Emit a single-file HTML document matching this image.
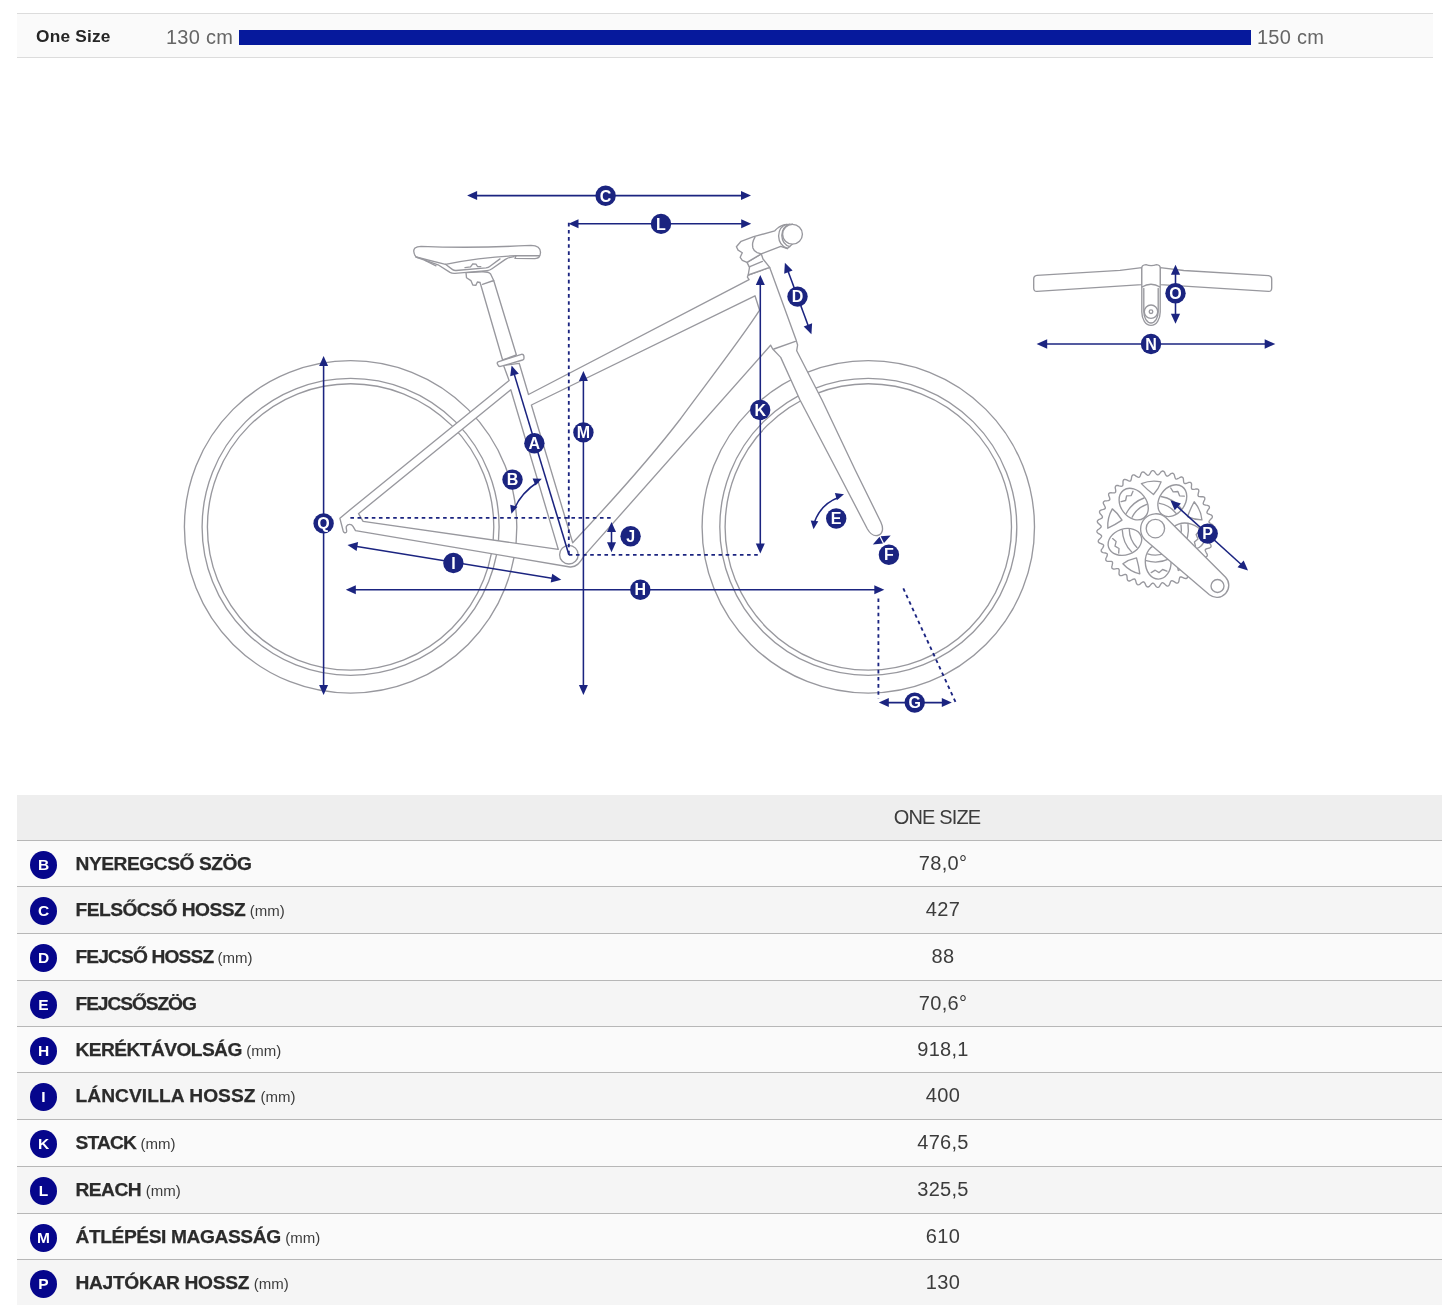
<!DOCTYPE html>
<html lang="hu">
<head>
<meta charset="utf-8">
<title>Geometria</title>
<style>
html,body{margin:0;padding:0;background:#fff;}
body{width:1445px;height:1305px;position:relative;overflow:hidden;font-family:"Liberation Sans",sans-serif;color:#2b2b2b;}
.strip{position:absolute;left:17px;top:13px;width:1416px;height:43px;background:#fafafa;border-top:1px solid #dcdcdc;border-bottom:1px solid #dcdcdc;}
.strip .name{position:absolute;left:19px;top:1px;line-height:43px;font-weight:bold;font-size:17.3px;letter-spacing:.2px;color:#262626;white-space:nowrap;}
.strip .lo,.strip .hi{position:absolute;top:1px;line-height:45px;font-size:20px;letter-spacing:.25px;color:#666;white-space:nowrap;}
.strip .lo{left:149px;}
.strip .hi{left:1240px;}
.strip .bar{position:absolute;left:222px;top:16px;width:1012px;height:15px;background:#06199c;}
#geo{position:absolute;left:0;top:100px;width:1445px;height:660px;filter:blur(.65px);}
.tbl{position:absolute;left:17px;top:795px;width:1425px;}
.row{position:absolute;left:0;width:1425px;border-top:1px solid #b7b7b7;box-sizing:border-box;}
.row.o{background:#fafafa;}
.row.e{background:#f5f5f5;}
.hd{position:absolute;left:0;top:0;width:1425px;height:46px;background:#eeeeee;}
.hd span{position:absolute;left:820px;width:200px;text-align:center;top:0;line-height:45px;font-size:20px;letter-spacing:-.85px;color:#3c3c3c;}
.b{position:absolute;left:13px;top:10px;width:27px;height:28px;border-radius:50%;background:#06068c;color:#fff;font-weight:bold;font-size:15.5px;line-height:28px;text-align:center;}
.l{position:absolute;left:58.5px;top:1px;line-height:44px;font-weight:bold;font-size:19.2px;letter-spacing:-.45px;white-space:nowrap;color:#2b2b2b;-webkit-text-stroke:.25px #2b2b2b;}
.l small{-webkit-text-stroke:0;font-weight:normal;font-size:15px;letter-spacing:0;color:#3c3c3c;margin-left:-.3px;}
.v{position:absolute;left:826px;width:200px;text-align:center;top:0px;line-height:45px;font-size:20px;letter-spacing:.3px;color:#3c3c3c;}
</style>
</head>
<body>
<div class="strip"><span class="name">One Size</span><span class="lo">130 cm</span><div class="bar"></div><span class="hi">150 cm</span></div>
<!--SVG-START-->
<svg id="geo" viewBox="0 100 1445 660" width="1445" height="660">
<g fill="none" stroke="#98989e" stroke-width="1.35" stroke-linejoin="round" stroke-linecap="round">
<circle cx="350.6" cy="526.9" r="166.2"/>
<circle cx="350.6" cy="526.9" r="148.5"/>
<circle cx="350.6" cy="526.9" r="143.2"/>
<circle cx="868.3" cy="526.9" r="166.2"/>
<circle cx="868.3" cy="526.9" r="148.5"/>
<circle cx="868.3" cy="526.9" r="143.2"/>
<path fill="#fff" fill-rule="evenodd" d="M339.9,518.3 L350.4,509.5 L509.1,380.6 L503.6,365.4 L519.2,363.3 L528.5,394.5 L749.1,279.6 L747.4,277.1 L748.2,275 L769.7,267.4 L796.3,340.6 L797.6,345 L796.7,350.7 L822,400 L855.2,470 L880.9,522.2 C884,529 882.5,534.5 877.5,535.5 C872.5,536.5 870,533.5 867.4,529 L836.7,470 L800,400 L780.7,357.4 L772.7,349 L770.6,345.2 L584.9,554.9 C580,562 577,567.5 570,567 L355.5,530.6 L353,526.3 C351.5,524 348,523.6 346.4,526.4 C345.6,528.5 347.5,531 346.3,532.3 C345,533.4 343.6,532.4 343.2,531 Z M358.5,513.7 L510.8,389.8 L558.3,549.4 L363.1,521.3 Z M531.4,405 L755,295.8 L759.6,310.2 C742,338 700,392 680,419.5 C655,452 610,503 572.7,542.7 Z"/>
<path d="M773.9,349 L795.4,341.4"/>
<circle cx="568.9" cy="554.7" r="9.3" fill="#fff"/>
<path fill="#fff" d="M480.1,282.5 L502.6,360 L516.4,355 L493.7,280.5 Z"/>
<path fill="#fff" d="M498.1,361.8 L521.4,354.3 Q523.4,354 523.9,356 L524,358.3 Q524,359.5 522.6,360 L500.6,366.4 Q498.6,366.8 498,365 L497.3,363.6 Q497,362.3 498.1,361.8 Z"/>
<path fill="#fff" d="M480.1,282.5 L477.4,282 L475.8,285.4 L472.8,285 L470.9,280.6 L466.5,277.7 L466,272.6 L481.6,271.8 Q488.5,271.5 490.6,274 L493.7,280.5 L482.5,284.4"/>
<path fill="#fff" d="M416,257 Q412,251 415,248 Q417,246.3 421,246.3 Q472,248.5 531,245.4 Q540.6,245.5 540.5,252.5 Q540.3,258.6 535,258.6 L515,258.4 L516,255.7 Q480,257.5 445.5,264.3 Z"/>
<path d="M539.6,255.7 L516,255.7"/>
<path d="M416,257 L438,264.8 L450,272.4 Q452,273.6 455,273.4 L487,270.6 Q490,270.3 492,268.7 L505,259.6 Q508,257.4 514,256.6"/>
<path d="M445.5,264.3 L452.6,269.6 Q454,270.6 456,270.5 L486,267.9 Q488.5,267.6 490,266.2 L500,258.9"/>
<path d="M425,260.5 L436,265.8"/>
<path d="M465,267.6 L470.5,266.8 L472.8,263.8 L476,264.2 L477.5,266.5 L480.8,266.6"/>
<path fill="#fff" d="M747,262.4 L749.5,267.4 L748.2,275 L769.7,267.4 L763,259 L761.3,254 Z"/>
<path d="M749.3,266.8 L762.4,261.4"/>
<path fill="#fff" d="M747,262.4 L742.3,260.3 L740.2,257.3 L742.3,252.7 L738.1,250.1 L736.4,246.8 L741.1,241.3 L753.7,236.7 L774.8,230.8 Q779,226 784.5,224.6 L792.5,224.2 L792.5,244 L787.4,248.5 L780.7,246.3 L761.3,253.9 Z"/>
<path d="M755,237.1 Q751.5,243 752.9,248 Q754,251.5 757.1,252.7 L761.3,253.9"/>
<path d="M786.5,224.4 Q779,226.5 778.6,236 Q779,245.5 787.4,248.5"/>
<path d="M789.5,224.3 Q782.2,226.5 781.8,235.5 Q782.2,244.5 789.8,246.6"/>
<circle cx="792.5" cy="234.2" r="9.9" fill="#fff"/>
</g>
<g fill="#fff" stroke="#98989e" stroke-width="1.35" stroke-linejoin="round" stroke-linecap="round">
<path d="M1141.8,267.6 L1120,270.4 L1037,275.3 Q1033.7,275.6 1033.7,279 L1033.7,288 Q1033.7,291.6 1037,291.4 L1141.8,284.6 Z"/>
<path d="M1160.2,267.6 L1183.8,270.5 L1268.5,275.7 Q1271.7,276 1271.7,279 L1271.7,288 Q1271.7,291.6 1268.5,291.4 L1160.2,284.6 Z"/>
<path d="M1141.8,268 Q1141.8,265 1146,264.7 Q1151,266.6 1156.6,264.7 Q1160.2,265 1160.2,268 L1160.2,312 C1160.2,319 1156.5,325.3 1151,325.3 C1145.5,325.3 1141.8,319 1141.8,312 Z"/>
<path fill="none" d="M1141.9,287 Q1151,281.5 1160.1,287"/>
<path fill="none" d="M1143.8,288.5 L1143.8,311.5 C1143.8,318 1147,323 1151,323 C1155,323 1158.2,318 1158.2,311.5 L1158.2,288.5"/>
<circle cx="1151" cy="311.7" r="6.7"/>
<circle cx="1151" cy="311.7" r="1.8"/>
</g>
<g fill="none" stroke="#98989e" stroke-width="1.35" stroke-linejoin="round" stroke-linecap="round">
<path d="M1211.6,529 L1210.7,529.7 L1209.9,530.4 L1209.5,531 L1209.4,531.7 L1209.8,532.4 L1210.5,533.1 L1211.4,533.9 L1212.4,534.7 L1213,535.5 L1213.3,536.3 L1213.2,537 L1212.7,537.7 L1212,538.3 L1210.7,538.8 L1209.7,539.3 L1208.8,539.8 L1208.3,540.4 L1208.1,541.1 L1208.4,541.8 L1209,542.7 L1209.7,543.6 L1210.6,544.5 L1211,545.4 L1211.1,546.2 L1210.9,546.9 L1210.3,547.5 L1209.5,548 L1208.2,548.3 L1207.1,548.6 L1206.1,549 L1205.5,549.4 L1205.2,550.1 L1205.4,550.8 L1205.8,551.8 L1206.3,552.8 L1207,553.9 L1207.3,554.8 L1207.3,555.6 L1206.9,556.3 L1206.3,556.8 L1205.4,557.1 L1204.1,557.1 L1202.9,557.3 L1201.9,557.5 L1201.2,557.8 L1200.8,558.4 L1200.8,559.2 L1201,560.2 L1201.4,561.3 L1201.9,562.5 L1202,563.5 L1201.9,564.3 L1201.4,564.8 L1200.7,565.2 L1199.7,565.3 L1198.4,565.2 L1197.3,565.1 L1196.3,565.1 L1195.5,565.4 L1195,565.9 L1194.9,566.6 L1194.9,567.7 L1195.1,568.8 L1195.4,570.1 L1195.3,571.1 L1195,571.8 L1194.5,572.3 L1193.7,572.5 L1192.7,572.5 L1191.5,572.1 L1190.4,571.9 L1189.4,571.7 L1188.6,571.8 L1188,572.2 L1187.7,572.9 L1187.6,574 L1187.6,575.1 L1187.6,576.4 L1187.4,577.4 L1187,578.1 L1186.4,578.5 L1185.6,578.5 L1184.6,578.4 L1183.5,577.8 L1182.4,577.3 L1181.4,577 L1180.6,576.9 L1180,577.2 L1179.6,577.9 L1179.3,578.9 L1179.1,580 L1178.9,581.3 L1178.5,582.2 L1178,582.8 L1177.3,583.1 L1176.5,583.1 L1175.6,582.7 L1174.6,581.9 L1173.6,581.3 L1172.7,580.8 L1171.9,580.6 L1171.3,580.8 L1170.7,581.4 L1170.3,582.3 L1169.9,583.4 L1169.5,584.6 L1168.9,585.4 L1168.3,585.9 L1167.6,586.1 L1166.8,585.9 L1166,585.4 L1165.1,584.4 L1164.2,583.6 L1163.4,583 L1162.7,582.7 L1162,582.8 L1161.4,583.3 L1160.8,584.1 L1160.2,585.1 L1159.6,586.2 L1158.9,587 L1158.2,587.3 L1157.5,587.4 L1156.7,587 L1156,586.4 L1155.3,585.3 L1154.6,584.4 L1153.9,583.6 L1153.3,583.2 L1152.6,583.1 L1151.9,583.5 L1151.2,584.2 L1150.4,585.1 L1149.6,586.1 L1148.8,586.7 L1148,587 L1147.3,586.9 L1146.6,586.4 L1146,585.7 L1145.5,584.4 L1145,583.4 L1144.5,582.5 L1143.9,582 L1143.2,581.8 L1142.5,582.1 L1141.6,582.7 L1140.7,583.4 L1139.8,584.3 L1138.9,584.7 L1138.1,584.8 L1137.4,584.6 L1136.8,584 L1136.3,583.2 L1136,581.9 L1135.7,580.8 L1135.3,579.8 L1134.9,579.2 L1134.2,578.9 L1133.5,579.1 L1132.5,579.5 L1131.5,580 L1130.4,580.7 L1129.5,581 L1128.7,581 L1128,580.6 L1127.5,580 L1127.2,579.1 L1127.1,577.8 L1127,576.6 L1126.8,575.6 L1126.5,574.9 L1125.9,574.5 L1125.1,574.5 L1124.1,574.7 L1123,575.1 L1121.8,575.6 L1120.8,575.7 L1120,575.6 L1119.5,575.1 L1119.1,574.4 L1119,573.4 L1119.1,572.1 L1119.2,571 L1119.2,570 L1118.9,569.2 L1118.4,568.7 L1117.7,568.6 L1116.6,568.6 L1115.5,568.8 L1114.2,569.1 L1113.2,569 L1112.5,568.7 L1112,568.2 L1111.8,567.4 L1111.8,566.4 L1112.2,565.2 L1112.4,564.1 L1112.6,563.1 L1112.5,562.3 L1112.1,561.7 L1111.4,561.4 L1110.3,561.3 L1109.2,561.3 L1107.9,561.3 L1106.9,561.1 L1106.2,560.7 L1105.8,560.1 L1105.8,559.3 L1105.9,558.3 L1106.5,557.2 L1107,556.1 L1107.3,555.1 L1107.4,554.3 L1107.1,553.7 L1106.4,553.3 L1105.4,553 L1104.3,552.8 L1103,552.6 L1102.1,552.2 L1101.5,551.7 L1101.2,551 L1101.2,550.2 L1101.6,549.3 L1102.4,548.3 L1103,547.3 L1103.5,546.4 L1103.7,545.6 L1103.5,545 L1102.9,544.4 L1102,544 L1100.9,543.6 L1099.7,543.2 L1098.9,542.6 L1098.4,542 L1098.2,541.3 L1098.4,540.5 L1098.9,539.7 L1099.9,538.8 L1100.7,537.9 L1101.3,537.1 L1101.6,536.4 L1101.5,535.7 L1101,535.1 L1100.2,534.5 L1099.2,533.9 L1098.1,533.3 L1097.3,532.6 L1097,531.9 L1096.9,531.2 L1097.3,530.4 L1097.9,529.7 L1099,529 L1099.9,528.3 L1100.7,527.6 L1101.1,527 L1101.2,526.3 L1100.8,525.6 L1100.1,524.9 L1099.2,524.1 L1098.2,523.3 L1097.6,522.5 L1097.3,521.7 L1097.4,521 L1097.9,520.3 L1098.6,519.7 L1099.9,519.2 L1100.9,518.7 L1101.8,518.2 L1102.3,517.6 L1102.5,516.9 L1102.2,516.2 L1101.6,515.3 L1100.9,514.4 L1100,513.5 L1099.6,512.6 L1099.5,511.8 L1099.7,511.1 L1100.3,510.5 L1101.1,510 L1102.4,509.7 L1103.5,509.4 L1104.5,509 L1105.1,508.6 L1105.4,507.9 L1105.2,507.2 L1104.8,506.2 L1104.3,505.2 L1103.6,504.1 L1103.3,503.2 L1103.3,502.4 L1103.7,501.7 L1104.3,501.2 L1105.2,500.9 L1106.5,500.9 L1107.7,500.7 L1108.7,500.5 L1109.4,500.2 L1109.8,499.6 L1109.8,498.8 L1109.6,497.8 L1109.2,496.7 L1108.7,495.5 L1108.6,494.5 L1108.7,493.7 L1109.2,493.2 L1109.9,492.8 L1110.9,492.7 L1112.2,492.8 L1113.3,492.9 L1114.3,492.9 L1115.1,492.6 L1115.6,492.1 L1115.7,491.4 L1115.7,490.3 L1115.5,489.2 L1115.2,487.9 L1115.3,486.9 L1115.6,486.2 L1116.1,485.7 L1116.9,485.5 L1117.9,485.5 L1119.1,485.9 L1120.2,486.1 L1121.2,486.3 L1122,486.2 L1122.6,485.8 L1122.9,485.1 L1123,484 L1123,482.9 L1123,481.6 L1123.2,480.6 L1123.6,479.9 L1124.2,479.5 L1125,479.5 L1126,479.6 L1127.2,480.2 L1128.2,480.7 L1129.2,481 L1130,481.1 L1130.6,480.8 L1131,480.1 L1131.3,479.1 L1131.5,478 L1131.7,476.7 L1132.1,475.8 L1132.6,475.2 L1133.3,474.9 L1134.1,474.9 L1135,475.3 L1136,476.1 L1137,476.7 L1137.9,477.2 L1138.7,477.4 L1139.3,477.2 L1139.9,476.6 L1140.3,475.7 L1140.7,474.6 L1141.1,473.4 L1141.7,472.6 L1142.3,472.1 L1143,471.9 L1143.8,472.1 L1144.6,472.6 L1145.5,473.6 L1146.4,474.4 L1147.2,475 L1147.9,475.3 L1148.6,475.2 L1149.2,474.7 L1149.8,473.9 L1150.4,472.9 L1151,471.8 L1151.7,471 L1152.4,470.7 L1153.1,470.6 L1153.9,471 L1154.6,471.6 L1155.3,472.7 L1156,473.6 L1156.7,474.4 L1157.3,474.8 L1158,474.9 L1158.7,474.5 L1159.4,473.8 L1160.2,472.9 L1161,471.9 L1161.8,471.3 L1162.6,471 L1163.3,471.1 L1164,471.6 L1164.6,472.3 L1165.1,473.6 L1165.6,474.6 L1166.1,475.5 L1166.7,476 L1167.4,476.2 L1168.1,475.9 L1169,475.3 L1169.9,474.6 L1170.8,473.7 L1171.7,473.3 L1172.5,473.2 L1173.2,473.4 L1173.8,474 L1174.3,474.8 L1174.6,476.1 L1174.9,477.2 L1175.3,478.2 L1175.7,478.8 L1176.4,479.1 L1177.1,478.9 L1178.1,478.5 L1179.1,478 L1180.2,477.3 L1181.1,477 L1181.9,477 L1182.6,477.4 L1183.1,478 L1183.4,478.9 L1183.5,480.2 L1183.6,481.4 L1183.8,482.4 L1184.1,483.1 L1184.7,483.5 L1185.5,483.5 L1186.5,483.3 L1187.6,482.9 L1188.8,482.4 L1189.8,482.3 L1190.6,482.4 L1191.1,482.9 L1191.5,483.6 L1191.6,484.6 L1191.5,485.9 L1191.4,487 L1191.4,488 L1191.7,488.8 L1192.2,489.3 L1192.9,489.4 L1194,489.4 L1195.1,489.2 L1196.4,488.9 L1197.4,489 L1198.1,489.3 L1198.6,489.8 L1198.8,490.6 L1198.8,491.6 L1198.4,492.8 L1198.2,493.9 L1198,494.9 L1198.1,495.7 L1198.5,496.3 L1199.2,496.6 L1200.3,496.7 L1201.4,496.7 L1202.7,496.7 L1203.7,496.9 L1204.4,497.3 L1204.8,497.9 L1204.8,498.7 L1204.7,499.7 L1204.1,500.8 L1203.6,501.9 L1203.3,502.9 L1203.2,503.7 L1203.5,504.3 L1204.2,504.7 L1205.2,505 L1206.3,505.2 L1207.6,505.4 L1208.5,505.8 L1209.1,506.3 L1209.4,507 L1209.4,507.8 L1209,508.7 L1208.2,509.7 L1207.6,510.7 L1207.1,511.6 L1206.9,512.4 L1207.1,513 L1207.7,513.6 L1208.6,514 L1209.7,514.4 L1210.9,514.8 L1211.7,515.4 L1212.2,516 L1212.4,516.7 L1212.2,517.5 L1211.7,518.3 L1210.7,519.2 L1209.9,520.1 L1209.3,520.9 L1209,521.6 L1209.1,522.3 L1209.6,522.9 L1210.4,523.5 L1211.4,524.1 L1212.5,524.7 L1213.3,525.4 L1213.6,526.1 L1213.7,526.8 L1213.3,527.6 L1212.7,528.3 Z"/>
<ellipse cx="1187.5" cy="536.4" rx="17.2" ry="12.9" transform="rotate(17 1187.5 536.4)"/>
<path d="M1181,524.9 A26,26 0 0 1 1176.6,543.9"/>
<path d="M1188,524.4 A33,33 0 0 1 1182.7,547.5"/>
<path d="M1199.1,531 L1196.1,534.6 L1198,538.9 L1194.4,541.9 L1195.5,546.4 "/>
<path d="M1193.2,557.6 Q1187.8,566.4 1178.3,570.5 Q1176.2,563.7 1177,555.8 Q1185.4,556.1 1193.2,557.6 Z"/>
<ellipse cx="1158.2" cy="561.9" rx="17.2" ry="12.9" transform="rotate(89 1158.2 561.9)"/>
<path d="M1167.1,552.2 A26,26 0 0 1 1147.7,553.9"/>
<path d="M1169.8,558.7 A33,33 0 0 1 1146.2,560.7"/>
<path d="M1166.9,571.2 L1162.6,569.5 L1159.1,572.6 L1155.2,570.2 L1151.2,572.6 "/>
<path d="M1139.8,573.9 Q1129.8,571.4 1122.9,563.7 Q1128.7,559.6 1136.5,557.9 Q1138.8,566 1139.8,573.9 Z"/>
<ellipse cx="1124.9" cy="541.9" rx="17.2" ry="12.9" transform="rotate(161 1124.9 541.9)"/>
<path d="M1136.9,547.4 A26,26 0 0 1 1129.3,529.5"/>
<path d="M1131.6,551.9 A33,33 0 0 1 1122.3,530.2"/>
<path d="M1118.7,553.1 L1119,548.5 L1115,546.1 L1116.1,541.6 L1112.6,538.6 "/>
<path d="M1107.8,528.2 Q1107.1,517.9 1112.3,508.9 Q1118,513.2 1122,520.1 Q1115,524.8 1107.8,528.2 Z"/>
<ellipse cx="1133.7" cy="504.1" rx="17.2" ry="12.9" transform="rotate(233 1133.7 504.1)"/>
<path d="M1132.1,517.2 A26,26 0 0 1 1146.8,504.4"/>
<path d="M1126.2,513.5 A33,33 0 0 1 1144,498"/>
<path d="M1121.1,501.7 L1125.6,500.5 L1126.6,495.9 L1131.2,495.6 L1133,491.3 "/>
<path d="M1141.4,483.6 Q1151,479.7 1161.1,481.9 Q1158.8,488.7 1153.5,494.5 Q1146.9,489.4 1141.4,483.6 Z"/>
<ellipse cx="1172.3" cy="500.7" rx="17.2" ry="12.9" transform="rotate(305 1172.3 500.7)"/>
<path d="M1159.4,503.3 A26,26 0 0 1 1176.1,513.4"/>
<path d="M1161,496.5 A33,33 0 0 1 1181.3,508.7"/>
<path d="M1170.7,488 L1173.2,491.9 L1177.9,491.5 L1179.6,495.8 L1184.3,496.1 "/>
<path d="M1194.2,501.8 Q1200.9,509.7 1201.9,519.9 Q1194.8,519.9 1187.5,516.6 Q1190.4,508.8 1194.2,501.8 Z"/>
<path fill="#fff" d="M1145,539.8 L1209.4,594.8 A12.0,12.0 0 0 0 1225.6,577.2 L1165.8,517.4 A15.3,15.3 0 0 0 1145,539.8 Z"/>
<circle cx="1155.4" cy="528.6" r="9.2"/>
<circle cx="1217.5" cy="586" r="6.5"/>
</g>
<g fill="#1b2480" stroke="none">
<line x1="568.8" y1="222.8" x2="568.8" y2="554.9" stroke="#1b2480" stroke-width="1.85" stroke-dasharray="3.6 3.53"/>
<line x1="350.4" y1="517.9" x2="612.6" y2="517.9" stroke="#1b2480" stroke-width="1.85" stroke-dasharray="3.6 3.53"/>
<line x1="568.8" y1="554.9" x2="760" y2="554.9" stroke="#1b2480" stroke-width="1.85" stroke-dasharray="3.6 3.53"/>
<line x1="878.4" y1="598.5" x2="878.4" y2="698.5" stroke="#1b2480" stroke-width="1.85" stroke-dasharray="3.6 3.53"/>
<line x1="903.3" y1="588.4" x2="956" y2="703" stroke="#1b2480" stroke-width="1.85" stroke-dasharray="3.6 3.53"/>
<line x1="475.1" y1="195.6" x2="743" y2="195.6" stroke="#1b2480" stroke-width="1.55"/><path d="M467.1,195.6 L477.1,191.1 L477.1,200.1 Z"/><path d="M751,195.6 L741,200.1 L741,191.1 Z"/>
<line x1="576.5" y1="223.7" x2="743.2" y2="223.7" stroke="#1b2480" stroke-width="1.55"/><path d="M568.5,223.7 L578.5,219.2 L578.5,228.2 Z"/><path d="M751.2,223.7 L741.2,228.2 L741.2,219.2 Z"/>
<line x1="583.4" y1="379" x2="583.4" y2="687" stroke="#1b2480" stroke-width="1.55"/><path d="M583.4,371 L587.9,381 L578.9,381 Z"/><path d="M583.4,695 L578.9,685 L587.9,685 Z"/>
<line x1="760.3" y1="283" x2="760.3" y2="545.4" stroke="#1b2480" stroke-width="1.55"/><path d="M760.3,275 L764.8,285 L755.8,285 Z"/><path d="M760.3,553.4 L755.8,543.4 L764.8,543.4 Z"/>
<line x1="323.6" y1="364" x2="323.6" y2="687" stroke="#1b2480" stroke-width="1.55"/><path d="M323.6,356 L328.1,366 L319.1,366 Z"/><path d="M323.6,695 L319.1,685 L328.1,685 Z"/>
<line x1="353.8" y1="589.8" x2="876.3" y2="589.8" stroke="#1b2480" stroke-width="1.55"/><path d="M345.8,589.8 L355.8,585.3 L355.8,594.3 Z"/><path d="M884.3,589.8 L874.3,594.3 L874.3,585.3 Z"/>
<line x1="355.4" y1="546.2" x2="553.4" y2="578.4" stroke="#1b2480" stroke-width="1.55"/><path d="M347.5,544.9 L358.1,542.1 L356.6,550.9 Z"/><path d="M561.3,579.7 L550.7,582.5 L552.2,573.7 Z"/>
<line x1="513.9" y1="373.1" x2="568.9" y2="554.7" stroke="#1b2480" stroke-width="1.55"/><path d="M511.6,365.4 L518.8,373.7 L510.2,376.3 Z"/>
<line x1="611.5" y1="530" x2="611.5" y2="544.2" stroke="#1b2480" stroke-width="1.55"/><path d="M611.5,522 L616,532 L607,532 Z"/><path d="M611.5,552.2 L607,542.2 L616,542.2 Z"/>
<line x1="787.7" y1="270.3" x2="808.6" y2="326.7" stroke="#1b2480" stroke-width="1.55"/><path d="M784.9,262.8 L792.6,270.6 L784.2,273.7 Z"/><path d="M811.4,334.2 L803.7,326.4 L812.1,323.3 Z"/>
<line x1="886.8" y1="702.6" x2="943.8" y2="702.6" stroke="#1b2480" stroke-width="1.55"/><path d="M878.8,702.6 L888.8,698.1 L888.8,707.1 Z"/><path d="M951.8,702.6 L941.8,707.1 L941.8,698.1 Z"/>
<line x1="1045.1" y1="344" x2="1266.8" y2="344" stroke="#1b2480" stroke-width="1.55"/><path d="M1036.6,344 L1047.2,339.3 L1047.2,348.7 Z"/><path d="M1275.3,344 L1264.7,348.7 L1264.7,339.3 Z"/>
<line x1="1175.5" y1="272.7" x2="1175.5" y2="315.8" stroke="#1b2480" stroke-width="1.55"/><path d="M1175.5,264.7 L1180.1,274.7 L1170.9,274.7 Z"/><path d="M1175.5,323.8 L1170.9,313.8 L1180.1,313.8 Z"/>
<line x1="1176.3" y1="505.6" x2="1242.1" y2="565.2" stroke="#1b2480" stroke-width="1.55"/><path d="M1170.4,500.2 L1180.9,503.5 L1174.7,510.3 Z"/><path d="M1248,570.6 L1237.5,567.3 L1243.7,560.5 Z"/>
<path d="M872.8,544.4 L879.5,536.8 L882.9,543.6 Z"/>
<path d="M890.7,535.5 L884,543.1 L880.6,536.3 Z"/>
<path d="M538.5,481.5 Q521,493 514.5,508.5" fill="none" stroke="#1b2480" stroke-width="1.55"/>
<path d="M541.8,478.8 L535.5,485.6 L532.6,478.5 Z"/>
<path d="M511.4,513.8 L510.2,504.7 L517.5,506.8 Z"/>
<path d="M814.5,522 Q821,504 838.5,497.5" fill="none" stroke="#1b2480" stroke-width="1.55"/>
<path d="M813.5,529.2 L810.7,520.4 L818.3,521.3 Z"/>
<path d="M844,494.3 L836.9,500.2 L834.9,492.9 Z"/>
</g>
<g fill="#1b2480" font-family="'Liberation Sans',sans-serif" font-weight="bold" font-size="16px" text-anchor="middle">
<circle cx="605.6" cy="195.8" r="10.2"/>
<circle cx="661" cy="223.9" r="10.2"/>
<circle cx="583.4" cy="432.4" r="10.2"/>
<circle cx="760.2" cy="410" r="10.2"/>
<circle cx="323.6" cy="523.4" r="10.2"/>
<circle cx="640.3" cy="589.7" r="10.2"/>
<circle cx="453.4" cy="563" r="10.2"/>
<circle cx="534.4" cy="443.2" r="10.2"/>
<circle cx="630.6" cy="536.2" r="10.2"/>
<circle cx="797.5" cy="296.6" r="10.2"/>
<circle cx="914.7" cy="702.6" r="10.2"/>
<circle cx="1151" cy="344" r="10.2"/>
<circle cx="1175.5" cy="293.3" r="10.2"/>
<circle cx="1207.7" cy="533.6" r="10.2"/>
<circle cx="512.5" cy="479.6" r="10.2"/>
<circle cx="836.2" cy="518.5" r="10.2"/>
<circle cx="888.9" cy="554.7" r="10.2"/>
<g fill="#fff">
<text x="605.6" y="201.5">C</text>
<text x="661" y="229.6">L</text>
<text x="583.4" y="438.1">M</text>
<text x="760.2" y="415.7">K</text>
<text x="323.6" y="529.1">Q</text>
<text x="640.3" y="595.4">H</text>
<text x="453.4" y="568.7">I</text>
<text x="534.4" y="448.9">A</text>
<text x="630.6" y="541.9">J</text>
<text x="797.5" y="302.3">D</text>
<text x="914.7" y="708.3">G</text>
<text x="1151" y="349.7">N</text>
<text x="1175.5" y="299">O</text>
<text x="1207.7" y="539.3">P</text>
<text x="512.5" y="485.3">B</text>
<text x="836.2" y="524.2">E</text>
<text x="888.9" y="560.4">F</text>
</g></g>
</svg>
<!--SVG-END-->
<div class="tbl">
<div class="hd"><span>ONE SIZE</span></div>
<div class="row o" style="top:45px;height:48px"><div class="b">B</div><div class="l">NYEREGCSŐ SZÖG</div><div class="v">78,0°</div></div>
<div class="row e" style="top:91px;height:48px"><div class="b">C</div><div class="l" style="letter-spacing:-0.52px">FELSŐCSŐ HOSSZ <small>(mm)</small></div><div class="v">427</div></div>
<div class="row o" style="top:138px;height:48px"><div class="b">D</div><div class="l" style="letter-spacing:-0.87px">FEJCSŐ HOSSZ <small>(mm)</small></div><div class="v">88</div></div>
<div class="row e" style="top:185px;height:48px"><div class="b">E</div><div class="l" style="letter-spacing:-1.09px">FEJCSŐSZÖG</div><div class="v">70,6°</div></div>
<div class="row o" style="top:231px;height:48px"><div class="b">H</div><div class="l" style="letter-spacing:-0.58px">KERÉKTÁVOLSÁG <small>(mm)</small></div><div class="v">918,1</div></div>
<div class="row e" style="top:277px;height:48px"><div class="b">I</div><div class="l" style="letter-spacing:0.04px">LÁNCVILLA HOSSZ <small>(mm)</small></div><div class="v">400</div></div>
<div class="row o" style="top:324px;height:48px"><div class="b">K</div><div class="l" style="letter-spacing:-0.8px">STACK <small>(mm)</small></div><div class="v">476,5</div></div>
<div class="row e" style="top:371px;height:48px"><div class="b">L</div><div class="l" style="letter-spacing:-0.52px">REACH <small>(mm)</small></div><div class="v">325,5</div></div>
<div class="row o" style="top:418px;height:48px"><div class="b">M</div><div class="l" style="letter-spacing:-0.41px">ÁTLÉPÉSI MAGASSÁG <small>(mm)</small></div><div class="v">610</div></div>
<div class="row e" style="top:464px;height:48px"><div class="b">P</div><div class="l" style="letter-spacing:-0.32px">HAJTÓKAR HOSSZ <small>(mm)</small></div><div class="v">130</div></div>
</div>
</body>
</html>
